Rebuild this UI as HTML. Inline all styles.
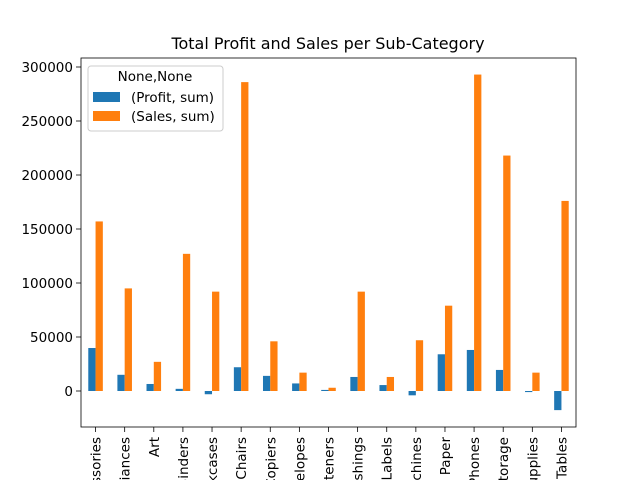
<!DOCTYPE html>
<html><head><meta charset="utf-8"><style>html,body{margin:0;background:#fff;overflow:hidden;width:640px;height:480px}svg{display:block;font-family:"DejaVu Sans","Liberation Sans",sans-serif}</style></head>
<body>
<svg id="c" width="640" height="480"></svg>
<script>
const categories=["Accessories","Appliances","Art","Binders","Bookcases","Chairs","Copiers","Envelopes","Fasteners","Furnishings","Labels","Machines","Paper","Phones","Storage","Supplies","Tables"];
const profitValues=[39800,15000,6500,2000,-3000,22000,14000,7000,1000,13000,5500,-4000,34000,38000,19500,-1000,-17700];
const salesValues=[157000,95000,27000,127000,92000,286000,46000,17000,3000,92000,13000,47000,79000,293000,218000,17000,176000];
const yTicks=[0,50000,100000,150000,200000,250000,300000];
const NS="http://www.w3.org/2000/svg";
const svg=document.getElementById('c');
const L=81,R=576,T=58,B=427;
const y=v=>391-v*(324/300000);
const step=(R-L)/categories.length;
const x=i=>L+step*(i+0.5);
function mk(t,a){const e=document.createElementNS(NS,t);for(const k in a)e.setAttribute(k,a[k]);svg.appendChild(e);return e;}
const title=mk('text',{x:328,y:49,'text-anchor':'middle','font-size':16});title.textContent='Total Profit and Sales per Sub-Category';


const bw=step*0.25;
categories.forEach((c,i)=>{
  const p=profitValues[i],s=salesValues[i];
  const r1=mk('rect',{x:x(i)-bw,y:Math.min(y(p),y(0)),width:bw,height:Math.abs(y(p)-y(0)),fill:'#1f77b4'});
  
  
  const r2=mk('rect',{x:x(i),y:Math.min(y(s),y(0)),width:bw,height:Math.abs(y(s)-y(0)),fill:'#ff7f0e'});
  
  
  mk('line',{x1:x(i),x2:x(i),y1:B,y2:B+5,stroke:'#000','stroke-width':0.8});
  const t=mk('text',{x:0,y:0,'text-anchor':'end','font-size':13.5,transform:`translate(${x(i)+5},${B+10}) rotate(-90)`});
  t.textContent=c;
  
  
});
yTicks.forEach(v=>{
  mk('line',{x1:L-5,x2:L,y1:y(v),y2:y(v),stroke:'#000','stroke-width':0.8});
  const t=mk('text',{x:L-8,y:y(v)+5,'text-anchor':'end','font-size':13.5});t.textContent=v;
  
  
});
const ax=mk('rect',{x:L,y:T,width:R-L,height:B-T,fill:'none',stroke:'#000','stroke-width':0.8});


const lg=mk('rect',{x:88,y:66,width:135,height:65,fill:'#fff','fill-opacity':0.8,stroke:'#ccc',rx:3});


const lt=mk('text',{x:155,y:81,'text-anchor':'middle','font-size':13.5});lt.textContent='None,None';


[['(Profit, sum)','#1f77b4',97],['(Sales, sum)','#ff7f0e',116]].forEach(([n,col,yy])=>{
  mk('rect',{x:93,y:yy-5,width:27,height:10,fill:col});
  const t=mk('text',{x:131,y:yy+5,'font-size':13.5});t.textContent=n;
  
  
});
</script>
</body></html>
